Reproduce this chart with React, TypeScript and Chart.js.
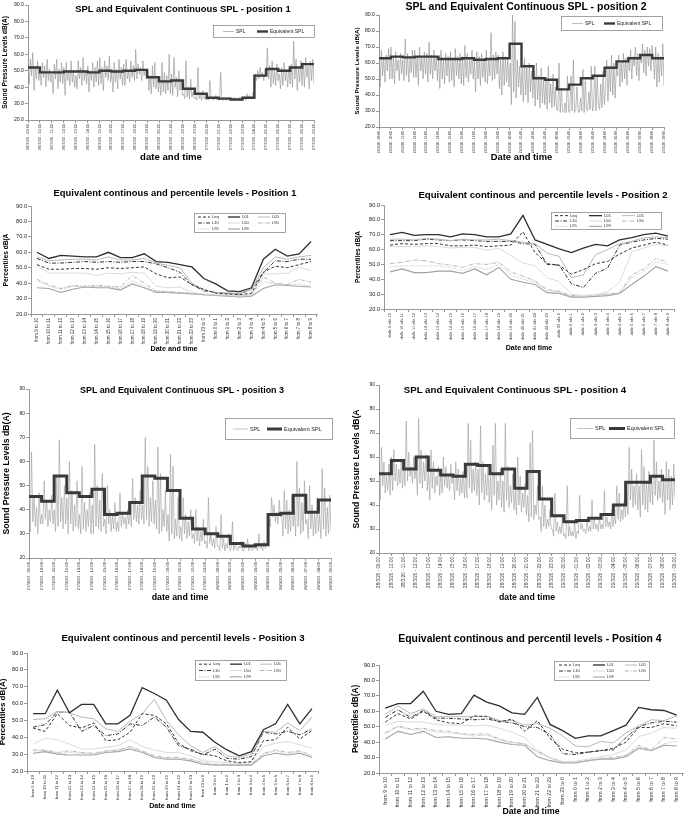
import React, { useEffect, useRef } from 'react';
import { Chart, registerables } from 'chart.js';

Chart.register(...registerables);

const FONT = "'Liberation Sans', Arial, Helvetica, sans-serif";
Chart.defaults.font.family = FONT;

// ---------- tick labels ----------
const splTicks12 = [
  '26/3/20 - 09:00', '26/3/20 - 10:00', '26/3/20 - 11:00', '26/3/20 - 12:00', '26/3/20 - 13:00',
  '26/3/20 - 14:00', '26/3/20 - 15:00', '26/3/20 - 16:00', '26/3/20 - 17:00', '26/3/20 - 18:00',
  '26/3/20 - 19:00', '26/3/20 - 20:00', '26/3/20 - 21:00', '26/3/20 - 22:00', '26/3/20 - 23:00',
  '27/3/20 - 00:00', '27/3/20 - 01:00', '27/3/20 - 02:00', '27/3/20 - 03:00', '27/3/20 - 04:00',
  '27/3/20 - 05:00', '27/3/20 - 06:00', '27/3/20 - 07:00', '27/3/20 - 08:00', '27/3/20 - 09:00',
];
const splTicks3 = [
  '27/3/20 - 09:00', '27/3/20 - 10:00', '27/3/20 - 11:00', '27/3/20 - 12:00', '27/3/20 - 13:00',
  '27/3/20 - 14:00', '27/3/20 - 15:00', '27/3/20 - 16:00', '27/3/20 - 17:00', '27/3/20 - 18:00',
  '27/3/20 - 19:00', '27/3/20 - 20:00', '27/3/20 - 21:00', '27/3/20 - 22:00', '27/3/20 - 23:00',
  '28/3/20 - 00:00', '28/3/20 - 01:00', '28/3/20 - 02:00', '28/3/20 - 03:00', '28/3/20 - 04:00',
  '28/3/20 - 05:00', '28/3/20 - 06:00', '28/3/20 - 07:00', '28/3/20 - 08:00', '28/3/20 - 09:00',
];
const splTicks4 = [
  '28/3/20 - 09:00', '28/3/20 - 10:00', '28/3/20 - 11:00', '28/3/20 - 12:00', '28/3/20 - 13:00',
  '28/3/20 - 14:00', '28/3/20 - 15:00', '28/3/20 - 16:00', '28/3/20 - 17:00', '28/3/20 - 18:00',
  '28/3/20 - 19:00', '28/3/20 - 20:00', '28/3/20 - 21:00', '28/3/20 - 22:00', '28/3/20 - 23:00',
  '29/3/20 - 00:00', '29/3/20 - 01:00', '29/3/20 - 02:00', '29/3/20 - 03:00', '29/3/20 - 04:00',
  '29/3/20 - 05:00', '29/3/20 - 06:00', '29/3/20 - 07:00', '29/3/20 - 08:00', '29/3/20 - 09:00',
];
const fromLabels = [
  'from 9 to 10', 'from 10 to 11', 'from 11 to 12', 'from 12 to 13', 'from 13 to 14', 'from 14 to 15',
  'from 15 to 16', 'from 16 to 17', 'from 17 to 18', 'from 18 to 19', 'from 19 to 20', 'from 20 to 21',
  'from 21 to 22', 'from 22 to 23', 'from 23 to 0', 'from 0 to 1', 'from 1 to 2', 'from 2 to 3',
  'from 3 to 4', 'from 4 to 5', 'from 5 to 6', 'from 6 to 7', 'from 7 to 8', 'from 8 to 9',
];
const dalleLabels = [
  'dalle 9 alle 10', 'dalle 10 alle 11', 'dalle 11 alle 12', 'dalle 12 alle 13', 'dalle 13 alle 14', 'dalle 14 alle 15',
  'dalle 15 alle 16', 'dalle 16 alle 17', 'dalle 17 alle 18', 'dalle 18 alle 19', 'dalle 19 alle 20', 'dalle 20 alle 21',
  'dalle 21 alle 22', 'dalle 22 alle 23', 'dalle 23 alle 0', 'dalle 0 alle 1', 'dalle 1 alle 2', 'dalle 2 alle 3',
  'dalle 3 alle 4', 'dalle 4 alle 5', 'dalle 5 alle 6', 'dalle 6 alle 7', 'dalle 7 alle 8', 'dalle 8 alle 9',
];

// ---------- SPL time series (10 readings per hour) & hourly equivalent SPL ----------
const spl1 = [
  54, 42, 57, 47, 61, 38, 52, 45, 56, 44,  50, 41, 55, 46, 53, 40, 57, 44, 51, 43,
  48, 36, 54, 45, 57, 39, 51, 43, 55, 42,  52, 35, 55, 44, 50, 41, 56, 43, 49, 40,
  47, 39, 56, 45, 52, 41, 58, 44, 50, 42,  53, 37, 50, 44, 55, 40, 52, 43, 56, 41,
  58, 42, 52, 38, 56, 46, 53, 44, 59, 43,  49, 37, 55, 43, 51, 39, 57, 45, 52, 41,
  54, 41, 57, 45, 50, 43, 56, 46, 53, 44,  63, 45, 54, 48, 52, 44, 56, 47, 51, 45,
  50, 38, 47, 36, 53, 40, 55, 39, 46, 37,  45, 35, 55, 37, 49, 36, 47, 38, 60, 36,
  48, 35, 58, 40, 46, 34, 50, 38, 44, 35,  36, 33, 56, 34, 40, 33, 45, 34, 37, 33,
  34, 32, 52, 33, 35, 32, 38, 33, 34, 32,  33, 32, 44, 33, 34, 32, 33, 35, 32, 33,
  32, 49, 33, 32, 34, 33, 32, 33, 34, 32,  33, 32, 34, 32, 33, 32, 33, 34, 32, 33,
  33, 34, 32, 36, 33, 35, 34, 33, 37, 34,  48, 44, 50, 45, 52, 46, 49, 44, 51, 47,
  64, 45, 53, 40, 56, 42, 50, 41, 54, 44,  48, 39, 52, 41, 55, 44, 50, 40, 53, 42,
  54, 40, 68, 45, 57, 38, 52, 43, 56, 41,  55, 40, 58, 46, 53, 39, 56, 44, 57, 42,
];
const leq1 = [52, 49, 49, 49.5, 49.5, 49, 50, 49.5, 50, 50.5, 46, 43.5, 44, 39, 36, 33.5, 33, 32.5, 33.5, 47, 51, 50, 52, 54];

const spl2 = [
  66, 45, 68, 52, 63, 48, 65, 55, 69, 50,  70, 50, 64, 47, 67, 55, 62, 49, 66, 53,
  62, 49, 75, 52, 66, 48, 64, 54, 68, 51,  68, 51, 64, 46, 70, 55, 63, 50, 67, 53,
  66, 48, 73, 53, 65, 50, 68, 55, 64, 49,  63, 44, 68, 50, 62, 47, 66, 52, 64, 48,
  67, 49, 63, 45, 69, 52, 64, 50, 66, 47,  64, 46, 71, 51, 66, 48, 63, 53, 68, 50,
  62, 42, 67, 50, 64, 46, 66, 51, 63, 48,  68, 47, 63, 52, 79, 49, 65, 50, 67, 53,
  65, 44, 62, 40, 67, 46, 64, 48, 63, 45,  60, 34, 90, 42, 86, 38, 62, 45, 58, 40,
  58, 36, 63, 40, 57, 35, 60, 42, 55, 38,  55, 33, 60, 37, 52, 32, 57, 35, 50, 34,
  50, 31, 58, 35, 47, 32, 53, 33, 45, 31,  30, 60, 29, 44, 30, 29, 35, 29, 52, 30,
  29, 52, 30, 62, 29, 31, 45, 30, 29, 38,  30, 56, 29, 49, 31, 30, 42, 31, 58, 30,
  33, 58, 30, 52, 35, 31, 47, 32, 55, 34,  45, 62, 36, 58, 42, 65, 40, 60, 38, 56,
  52, 65, 45, 61, 48, 66, 50, 63, 46, 64,  55, 68, 50, 64, 58, 70, 52, 66, 49, 65,
  60, 72, 54, 68, 52, 70, 58, 69, 55, 71,  62, 50, 70, 45, 66, 48, 64, 52, 72, 46,
];
const leq2 = [63, 64, 63.5, 64, 64, 62.5, 62.5, 63, 62, 62.5, 63, 72, 58, 50.5, 49.5, 43.5, 46.5, 50.5, 52, 57, 61, 63, 65, 63];

const spl3 = [
  50, 31, 64, 35, 45, 33, 41, 30, 47, 34,  38, 34, 52, 36, 44, 33, 40, 35, 46, 34,
  40, 31, 54, 33, 69, 35, 45, 32, 50, 34,  45, 30, 60, 34, 48, 31, 42, 33, 52, 32,
  38, 30, 58, 32, 43, 31, 40, 33, 47, 30,  42, 30, 67, 33, 50, 32, 44, 31, 55, 33,
  36, 30, 50, 34, 40, 31, 38, 32, 43, 31,  35, 31, 47, 33, 38, 34, 37, 32, 40, 34,
  40, 33, 53, 36, 45, 35, 42, 34, 48, 36,  42, 34, 70, 36, 58, 33, 45, 35, 52, 34,
  44, 32, 66, 30, 55, 31, 40, 33, 48, 31,  38, 27, 63, 30, 58, 28, 36, 29, 45, 28,
  33, 27, 45, 30, 38, 28, 35, 29, 40, 28,  30, 26, 40, 27, 33, 25, 31, 27, 36, 26,
  27, 24, 45, 26, 30, 25, 28, 24, 33, 25,  25, 23, 38, 24, 28, 23, 26, 24, 30, 23,
  24, 35, 23, 26, 24, 23, 25, 24, 27, 23,  23, 26, 24, 28, 23, 25, 24, 23, 26, 24,
  24, 23, 30, 24, 25, 23, 27, 24, 26, 25,  36, 33, 45, 37, 42, 35, 39, 34, 44, 37,
  38, 29, 48, 32, 44, 30, 40, 31, 46, 33,  40, 29, 60, 33, 49, 30, 43, 31, 52, 34,
  36, 28, 50, 32, 42, 29, 38, 30, 45, 31,  38, 28, 57, 32, 49, 29, 41, 30, 46, 31,
];
const leq3 = [45.5, 43.5, 54, 47, 45.5, 48.5, 38, 38.5, 43, 54, 53, 48, 36.5, 32, 30, 29, 26, 25, 25.5, 38, 38.5, 46, 39, 44];

const spl4 = [
  55, 42, 64, 48, 58, 45, 52, 46, 57, 44,  60, 46, 63, 50, 57, 48, 55, 49, 59, 47,
  58, 48, 75, 50, 62, 52, 56, 49, 60, 51,  56, 44, 76, 49, 63, 47, 58, 50, 61, 46,
  54, 42, 63, 47, 58, 45, 52, 48, 56, 44,  55, 45, 60, 48, 56, 47, 53, 46, 57, 49,
  52, 42, 58, 46, 55, 44, 51, 45, 54, 43,  54, 43, 74, 47, 67, 45, 55, 46, 58, 44,
  55, 40, 73, 45, 58, 42, 53, 44, 56, 41,  52, 38, 65, 44, 74, 40, 50, 42, 55, 39,
  50, 37, 74, 42, 56, 39, 48, 41, 53, 38,  46, 36, 60, 40, 52, 37, 45, 39, 49, 36,
  44, 33, 66, 35, 71, 34, 40, 36, 48, 34,  35, 29, 48, 31, 40, 30, 34, 31, 38, 30,
  30, 27, 45, 29, 33, 28, 31, 28, 35, 27,  28, 26, 48, 27, 31, 27, 29, 27, 33, 26,
  29, 28, 44, 30, 32, 29, 30, 28, 34, 29,  31, 29, 42, 30, 34, 30, 32, 29, 35, 30,
  32, 30, 46, 31, 35, 31, 33, 30, 38, 31,  36, 32, 48, 34, 45, 33, 38, 34, 42, 35,
  50, 36, 64, 42, 55, 39, 48, 40, 53, 38,  48, 35, 63, 40, 56, 38, 50, 37, 54, 41,
  52, 40, 67, 44, 58, 42, 50, 43, 55, 41,  50, 36, 58, 42, 55, 38, 52, 40, 57, 43,
];
const leq4 = [53, 58.5, 55, 60, 54.5, 52.5, 52, 57, 56.5, 53, 55, 47, 54, 42.5, 35.5, 33, 33.5, 34.5, 36, 40, 49.5, 49.5, 52, 50.5];

// ---------- percentile levels (hourly) ----------
const p1Leq = [52, 49, 49, 49.5, 49.5, 49, 50, 49.5, 50, 50.5, 46, 43.5, 44, 39, 36, 33.5, 33, 32.5, 33.5, 47, 51, 50, 52, 54];
const p1L01 = [60, 56, 58, 57.5, 57, 57, 60, 56.5, 56.5, 59, 54, 53.5, 52, 50.5, 43, 39.5, 35, 34.5, 37, 55.5, 62, 57.5, 59, 67];
const p1L05 = [57, 54.5, 55, 55.5, 55.5, 55, 57, 55, 55, 56, 53, 51.5, 50, 40, 35.5, 34, 33.5, 33.5, 36, 50, 57, 55.5, 57, 58];
const p1L10 = [56, 53, 53, 53.5, 54, 53.5, 54, 53.5, 54, 54, 52.5, 50, 47, 39, 35, 34, 33.5, 33, 36, 47, 54.5, 54, 55.5, 55.5];
const p1L50 = [51, 46.5, 46.5, 46.5, 46.5, 45, 46.5, 46, 47, 46.5, 38, 37, 37.5, 34, 33, 32.5, 32.5, 32, 33, 46, 46, 46.5, 50.5, 48];
const p1L90 = [42.5, 39, 36.5, 38.5, 38, 38.5, 38, 37.5, 45, 40, 35, 34.5, 34, 33.5, 32.5, 32, 32, 31.5, 32.5, 44, 40, 39, 42.5, 40.5];
const p1L95 = [41.5, 38, 36, 38, 37.5, 38, 37.5, 36.5, 41.5, 38, 34.5, 34, 33.5, 33, 32.5, 32, 31.5, 31.5, 32, 41, 39.5, 39, 39.5, 38];
const p1L99 = [37, 36.5, 34, 36, 37.5, 37, 37, 35.5, 39.5, 37, 34, 34, 33.5, 33, 32.5, 32, 31.5, 31, 31.5, 36.5, 39, 38.5, 38, 37.5];

const p2Leq = [63, 64, 63.5, 64, 64, 62.5, 62.5, 63, 62, 62.5, 63, 72, 58, 50.5, 49.5, 43.5, 46.5, 50.5, 52, 57, 61, 63, 65, 63];
const p2L01 = [70, 71.5, 69.5, 70, 70, 68.5, 70.5, 70, 68.5, 68.5, 70.5, 83, 66.5, 63.5, 60.5, 58, 61, 63.5, 62.5, 66.5, 68, 70, 71, 69];
const p2L05 = [67, 67, 66.5, 67.5, 67, 66, 67, 66.5, 66.5, 67, 66, 65, 64, 57.5, 55.5, 41, 43, 56.5, 60, 64, 65.5, 68, 68.5, 68];
const p2L10 = [66, 66, 66, 67, 66.5, 66, 66.5, 66, 65.5, 65.5, 65.5, 64, 63.5, 50, 49.5, 37, 34.5, 44, 47.5, 63, 65, 66.5, 67.5, 67];
const p2L50 = [62, 62, 62, 62.5, 62, 61, 61.5, 61.5, 59.5, 61, 56, 51, 49, 41, 38.5, 30, 29, 29.5, 31.5, 38, 58.5, 61, 63.5, 62.5];
const p2L90 = [50.5, 51.5, 53, 52.5, 50.5, 49.5, 48, 50.5, 50, 51.5, 45, 42, 39, 33, 32, 29, 29, 29.5, 30, 31, 43, 47, 54, 51.5];
const p2L95 = [48.5, 49, 49, 49, 49, 48, 46, 48.5, 46.5, 50, 43, 40, 38, 32.5, 31.5, 28.5, 28.5, 29, 29.5, 30.5, 41, 45.5, 51.5, 50];
const p2L99 = [45, 47, 44.5, 44.5, 45.5, 45.5, 44, 47, 43, 48, 40, 38, 36.5, 31, 30.5, 28, 28, 28.5, 29, 30.5, 36.5, 42, 48.5, 45.5];

const p3Leq = [45.5, 43.5, 54, 47, 45.5, 48.5, 38, 38.5, 43, 54, 53, 48, 36.5, 32, 30, 29, 26, 25, 25.5, 38, 38.5, 46, 39, 44];
const p3L01 = [54, 54, 68, 54.5, 59.5, 59.5, 48, 48, 53, 69.5, 66, 62, 50.5, 43.5, 43, 37, 32.5, 29, 31.5, 44.5, 48, 59.5, 48, 57];
const p3L05 = [50.5, 51, 55.5, 54.5, 52, 51, 45, 43.5, 49.5, 54, 62.5, 50, 41.5, 35, 31, 34.5, 29, 28, 30, 43.5, 43, 48.5, 44, 52];
const p3L10 = [46, 47.5, 55, 55, 43.5, 47, 41, 42, 48, 47, 52, 46, 35, 33, 29.5, 33, 27.5, 27, 28.5, 43, 42, 43.5, 41.5, 45];
const p3L50 = [36, 39.5, 38.5, 36, 33, 33, 34, 35, 38.5, 34.5, 32.5, 31, 31, 29, 26, 25.5, 25, 24.5, 25, 34.5, 36.5, 37.5, 35.5, 33.5];
const p3L90 = [32.5, 32.5, 31, 32, 31, 30.5, 32, 32.5, 34.5, 32, 29, 28, 28, 27, 25, 24, 24, 24, 24, 30.5, 32.5, 31, 32, 29];
const p3L95 = [32, 32, 30.5, 31, 30.5, 30, 31.5, 32.5, 34, 31.5, 28.5, 27.5, 27.5, 26.5, 24.5, 23.5, 23.5, 23.5, 24, 30, 32, 30, 31.5, 28.5];
const p3L99 = [30.5, 31.5, 30, 29.5, 29.5, 29.5, 31, 31.5, 33, 31, 28, 27, 27, 26, 24, 23.5, 23.5, 23.5, 23.5, 29, 30.5, 29.5, 30.5, 28];

const p4Leq = [53, 58.5, 55, 60, 54.5, 52.5, 52, 57, 56.5, 53, 55, 47, 54, 42.5, 35.5, 33, 33.5, 34.5, 36, 40, 49.5, 49.5, 52, 50.5];
const p4L01 = [62, 65, 65, 73, 60, 58, 58.5, 70.5, 66, 63.5, 59, 58, 69, 51.5, 47.5, 42.5, 44, 44, 47.5, 51, 62.5, 61, 60.5, 57.5];
const p4L05 = [58, 63.5, 58.5, 61.5, 56.5, 56.5, 56.5, 56.5, 57, 54, 54, 51, 52, 49, 44, 37.5, 37, 40.5, 39.5, 46, 50.5, 54.5, 54, 57];
const p4L10 = [56, 61, 56, 60.5, 55.5, 55.5, 55, 54.5, 55, 53.5, 52.5, 50, 49.5, 45, 32.5, 32, 33.5, 34.5, 35, 43, 50, 52.5, 53.5, 53];
const p4L50 = [51, 53.5, 53, 53, 51.5, 51, 51, 50.5, 51, 49, 46.5, 43, 35, 30, 27.5, 27.5, 29, 30.5, 32, 35, 43.5, 46, 49.5, 49];
const p4L90 = [46, 50.5, 48.5, 49, 47.5, 47, 45.5, 45, 45.5, 42, 40, 39, 34, 30, 27, 27, 28, 29.5, 30, 31.5, 38, 35, 43, 42];
const p4L95 = [45.5, 50, 48, 48, 46.5, 46, 45, 44, 44.5, 41.5, 39.5, 39, 33.5, 29.5, 27, 27, 28, 29, 29.5, 31, 37, 34.5, 39, 40.5];
const p4L99 = [42, 47, 45, 47, 43, 43.5, 42.5, 42.5, 42, 40, 38.5, 38, 30.5, 28, 26.5, 26.5, 28, 29, 29, 30.5, 36, 34.5, 38, 37.5];

// ---------- styles ----------
const pctStyles: any = {
  Leq: { color: '#333333', width: 1, dash: [3, 2] },
  L01: { color: '#2e2e2e', width: 1.3, dash: [] },
  L05: { color: '#b8b8b8', width: 1, dash: [] },
  L10: { color: '#333333', width: 1, dash: [4, 1.5, 1, 1.5] },
  L50: { color: '#dadada', width: 1, dash: [] },
  L90: { color: '#b4b4b4', width: 1, dash: [4, 1.5, 1, 1.5] },
  L95: { color: '#c4c4c4', width: 1, dash: [1.2, 1.2] },
  L99: { color: '#a2a2a2', width: 1.1, dash: [] },
};

// ---------- legend box plugin ----------
const boxLegend = {
  id: 'boxLegend',
  afterDraw(chart: any, _args: any, o: any) {
    if (!o || !o.box) return;
    const ctx = chart.ctx;
    const [x, y, w, h] = o.box;
    ctx.save();
    ctx.setLineDash([]);
    ctx.fillStyle = '#ffffff';
    ctx.fillRect(x, y, w, h);
    ctx.strokeStyle = '#8c8c8c';
    ctx.lineWidth = 0.8;
    ctx.strokeRect(x + 0.5, y + 0.5, w - 1, h - 1);
    ctx.font = `${o.fontSize}px ${FONT}`;
    ctx.textBaseline = 'middle';
    ctx.textAlign = 'left';
    const ds = chart.data.datasets;
    const cols = o.colX.length;
    const rows = Math.ceil(ds.length / cols);
    const rowH = (h - 2) / rows;
    ds.forEach((d: any, i: number) => {
      const c = i % cols;
      const r = Math.floor(i / cols);
      const sx = x + o.colX[c];
      const sy = y + 1 + rowH * (r + 0.5);
      ctx.strokeStyle = d.borderColor;
      ctx.lineWidth = d.borderWidth;
      ctx.setLineDash(d.borderDash || []);
      ctx.beginPath();
      ctx.moveTo(sx, sy);
      ctx.lineTo(sx + o.sample, sy);
      ctx.stroke();
      ctx.setLineDash([]);
      ctx.fillStyle = '#222222';
      ctx.fillText(d.label, sx + o.sample + o.gap, sy);
    });
    ctx.restore();
  },
};

const AXIS_COLOR = '#7f7f7f';

function axisBase() {
  return {
    grid: { display: true, drawOnChartArea: false, drawTicks: true, tickLength: 3, color: AXIS_COLOR, lineWidth: 0.8 },
    border: { display: true, color: AXIS_COLOR, width: 0.8 },
  };
}

function yAxis(p: any) {
  return {
    ...axisBase(),
    min: 20,
    max: 90,
    afterFit: (s: any) => { s.width = p.yw; },
    ticks: {
      stepSize: 10,
      padding: 1,
      color: '#222',
      font: { size: p.yTickSize },
      callback: (v: any) => (p.yDecimals ? Number(v).toFixed(1) : String(v)),
    },
    title: {
      display: true,
      text: p.yTitle,
      color: '#000',
      font: { size: p.yTitleSize, weight: 'bold', lineHeight: 1 },
      padding: { top: p.yTitlePad, bottom: 0 },
    },
  };
}

function xTitle(p: any) {
  return {
    display: true,
    text: p.xTitle,
    color: '#000',
    font: { size: p.xTitleSize, weight: 'bold', lineHeight: 1 },
    padding: { top: 0, bottom: p.xTitlePad },
  };
}

function splConfig(p: any) {
  const n = p.spl.length;
  return {
    type: 'line',
    data: {
      datasets: [
        {
          label: 'SPL',
          data: p.spl.map((v: number, i: number) => ({ x: (i * 24) / (n - 1), y: v })),
          borderColor: p.splColor,
          borderWidth: 0.6,
          pointRadius: 0,
          tension: 0,
          order: 1,
        },
        {
          label: 'Equivalent SPL',
          data: [...p.leq.map((v: number, i: number) => ({ x: i, y: v })), { x: p.leq.length, y: p.leq[p.leq.length - 1] }],
          borderColor: '#3a3a3a',
          borderWidth: p.leqWidth,
          pointRadius: 0,
          stepped: 'before',
          order: 0,
        },
      ],
    },
    options: {
      responsive: false,
      animation: false,
      events: [],
      layout: { padding: { left: 0, top: p.padT, right: p.padR, bottom: 0 } },
      plugins: { legend: { display: false }, tooltip: { enabled: false }, title: { display: false }, boxLegend: p.legend },
      scales: {
        x: {
          ...axisBase(),
          type: 'linear',
          min: 0,
          max: 24,
          afterBuildTicks: (s: any) => { s.ticks = p.ticks.map((_: string, i: number) => ({ value: i })); },
          afterFit: (s: any) => { s.height = p.xh; },
          ticks: {
            autoSkip: false,
            minRotation: 90,
            maxRotation: 90,
            padding: 1,
            color: '#333',
            font: { size: p.xTickSize },
            callback: (v: any) => p.ticks[Math.round(Number(v))],
          },
          title: xTitle(p),
        },
        y: yAxis(p),
      },
    },
    plugins: [boxLegend],
  };
}

function pctConfig(p: any) {
  return {
    type: 'line',
    data: {
      labels: p.labels,
      datasets: p.series.map((s: any) => ({
        label: s.label,
        data: s.data,
        borderColor: pctStyles[s.label].color,
        borderWidth: pctStyles[s.label].width,
        borderDash: pctStyles[s.label].dash,
        pointRadius: 0,
        tension: 0,
      })),
    },
    options: {
      responsive: false,
      animation: false,
      events: [],
      layout: { padding: { left: 0, top: p.padT, right: p.padR, bottom: 0 } },
      plugins: { legend: { display: false }, tooltip: { enabled: false }, title: { display: false }, boxLegend: p.legend },
      scales: {
        x: {
          ...axisBase(),
          type: 'category',
          offset: true,
          grid: { display: true, drawOnChartArea: false, drawTicks: true, tickLength: 3, color: AXIS_COLOR, lineWidth: 0.8, offset: true },
          afterFit: (s: any) => { s.height = p.xh; },
          ticks: { autoSkip: false, minRotation: 90, maxRotation: 90, padding: 1, color: '#333', font: { size: p.xTickSize } },
          title: xTitle(p),
        },
        y: yAxis(p),
      },
    },
    plugins: [boxLegend],
  };
}

function pctSeries(leq: number[], l01: number[], l05: number[], l10: number[], l50: number[], l90: number[], l95: number[], l99: number[]) {
  return [
    { label: 'Leq', data: leq }, { label: 'L01', data: l01 }, { label: 'L05', data: l05 },
    { label: 'L10', data: l10 }, { label: 'L50', data: l50 }, { label: 'L90', data: l90 },
    { label: 'L95', data: l95 }, { label: 'L99', data: l99 },
  ];
}

const panels: any[] = [
  {
    box: [0, 0, 342, 180],
    title: { text: 'SPL and Equivalent Continuous SPL -  position 1', cx: 183, cy: 9, size: 9.4 },
    config: () => splConfig({
      spl: spl1, leq: leq1, ticks: splTicks12, splColor: '#8e8e8e', leqWidth: 2.4,
      padT: 5, yw: 28, padR: 28, xh: 60,
      xTitle: 'date and time', xTitleSize: 9.6, xTitlePad: 18,
      yTitle: 'Sound Pressure Levels dB(A)', yTitleSize: 6.6, yTitlePad: 1.7,
      xTickSize: 3.9, yTickSize: 5.2, yDecimals: true,
      legend: { box: [213, 25, 102, 13], colX: [10, 44], sample: 11, gap: 2, fontSize: 5 },
    }),
  },
  {
    box: [342, 0, 343, 180],
    title: { text: 'SPL and Equivalent Continuous SPL -  position 2', cx: 526, cy: 6, size: 10.5 },
    config: () => splConfig({
      spl: spl2, leq: leq2, ticks: splTicks12, splColor: '#8e8e8e', leqWidth: 2.4,
      padT: 15, yw: 37, padR: 21, xh: 53,
      xTitle: 'Date and time', xTitleSize: 9.4, xTitlePad: 18,
      yTitle: 'Sound Pressure Levels dB(A)', yTitleSize: 6.2, yTitlePad: 11.9,
      xTickSize: 3.3, yTickSize: 5.2, yDecimals: true,
      legend: { box: [219, 16, 102, 15], colX: [11, 43], sample: 11, gap: 2, fontSize: 5 },
    }),
  },
  {
    box: [0, 180, 342, 195],
    title: { text: 'Equivalent continous and percentile levels - Position 1', cx: 175, cy: 193, size: 9.4 },
    config: () => pctConfig({
      labels: fromLabels,
      series: pctSeries(p1Leq, p1L01, p1L05, p1L10, p1L50, p1L90, p1L95, p1L99),
      padT: 26, yw: 31, padR: 25, xh: 61,
      xTitle: 'Date and time', xTitleSize: 7.2, xTitlePad: 22.4,
      yTitle: 'Percentiles dB(A', yTitleSize: 6.6, yTitlePad: 2.7,
      xTickSize: 4.5, yTickSize: 5.6, yDecimals: true,
      legend: { box: [194, 33, 92, 20], colX: [4, 34, 64], sample: 12, gap: 2, fontSize: 4 },
    }),
  },
  {
    box: [342, 180, 343, 195],
    title: { text: 'Equivalent continous and percentile levels - Position 2', cx: 543, cy: 195, size: 9.65 },
    config: () => pctConfig({
      labels: dalleLabels,
      series: pctSeries(p2Leq, p2L01, p2L05, p2L10, p2L50, p2L90, p2L95, p2L99),
      padT: 25, yw: 42, padR: 11, xh: 66,
      xTitle: 'Date and time', xTitleSize: 7.1, xTitlePad: 23.4,
      yTitle: 'Percentiles dB(A', yTitleSize: 6.5, yTitlePad: 12.7,
      xTickSize: 4, yTickSize: 5.6, yDecimals: true,
      legend: { box: [209, 32, 111, 18], colX: [4, 38, 71], sample: 13, gap: 2, fontSize: 4 },
    }),
  },
  {
    box: [0, 375, 342, 235],
    title: { text: 'SPL and Equivalent Continuous SPL -  position 3', cx: 182, cy: 390, size: 8.9 },
    config: () => splConfig({
      spl: spl3, leq: leq3, ticks: splTicks3, splColor: '#9a9a9a', leqWidth: 3,
      padT: 14, yw: 29, padR: 11, xh: 52,
      xTitle: 'date and time', xTitleSize: 8.8, xTitlePad: 7.6,
      yTitle: 'Sound Pressure Levels dB(A)', yTitleSize: 8.7, yTitlePad: 2.6,
      xTickSize: 4.2, yTickSize: 5, yDecimals: false,
      legend: { box: [225, 43, 108, 22], colX: [8, 42], sample: 15, gap: 2, fontSize: 5.5 },
    }),
  },
  {
    box: [342, 375, 343, 235],
    title: { text: 'SPL and Equivalent Continuous SPL -  position 4', cx: 515, cy: 390, size: 9.7 },
    config: () => splConfig({
      spl: spl4, leq: leq4, ticks: splTicks4, splColor: '#9a9a9a', leqWidth: 3,
      padT: 10, yw: 37, padR: 10, xh: 57,
      xTitle: 'date and time', xTitleSize: 8.7, xTitlePad: 7.6,
      yTitle: 'Sound Pressure Levels dB(A', yTitleSize: 8.7, yTitlePad: 10.6,
      xTickSize: 4.6, yTickSize: 5, yDecimals: false,
      legend: { box: [228, 43, 105, 21], colX: [7, 39], sample: 16, gap: 2, fontSize: 5.5 },
    }),
  },
  {
    box: [0, 610, 342, 206],
    title: { text: 'Equivalent continous and percentil levels - Position 3', cx: 183, cy: 638, size: 9.6 },
    config: () => pctConfig({
      labels: fromLabels,
      series: pctSeries(p3Leq, p3L01, p3L05, p3L10, p3L50, p3L90, p3L95, p3L99),
      padT: 43, yw: 27, padR: 24, xh: 45,
      xTitle: 'Date and time', xTitleSize: 7.1, xTitlePad: 6.4,
      yTitle: 'Percentiles dB(A)', yTitleSize: 8, yTitlePad: -1,
      xTickSize: 4.2, yTickSize: 5.6, yDecimals: true,
      legend: { box: [195, 50, 92, 21], colX: [4, 35, 65], sample: 12, gap: 2, fontSize: 4 },
    }),
  },
  {
    box: [342, 610, 343, 206],
    title: { text: 'Equivalent continous and percentil levels - Position 4', cx: 530, cy: 639, size: 10.4 },
    config: () => pctConfig({
      labels: fromLabels,
      series: pctSeries(p4Leq, p4L01, p4L05, p4L10, p4L50, p4L90, p4L95, p4L99),
      padT: 55, yw: 37, padR: 2, xh: 43,
      xTitle: 'Date and time', xTitleSize: 8.7, xTitlePad: -0.4,
      yTitle: 'Percentiles dB(A)', yTitleSize: 8.2, yTitlePad: 9.9,
      xTickSize: 5.2, yTickSize: 5.8, yDecimals: true,
      legend: { box: [212, 51, 96, 20], colX: [5, 39, 71], sample: 12, gap: 2, fontSize: 4 },
    }),
  },
];

function Panel({ spec }: { spec: any }) {
  const ref = useRef<HTMLCanvasElement | null>(null);
  const [l, t, w, h] = spec.box;
  useEffect(() => {
    if (!ref.current) return;
    const chart = new Chart(ref.current, spec.config());
    return () => chart.destroy();
  }, []);
  return (
    <div style={{ position: 'absolute', left: l, top: t, width: w, height: h }}>
      <canvas ref={ref} width={w} height={h} style={{ display: 'block', width: w, height: h }} />
    </div>
  );
}

function Title({ t }: { t: any }) {
  return (
    <div
      style={{
        position: 'absolute',
        left: t.cx - 200,
        width: 400,
        top: t.cy - t.size * 0.6,
        height: t.size * 1.2,
        lineHeight: `${t.size * 1.2}px`,
        fontFamily: FONT,
        fontWeight: 'bold',
        fontSize: t.size,
        textAlign: 'center',
        whiteSpace: 'nowrap',
        color: '#000',
        pointerEvents: 'none',
      }}
    >
      {t.text}
    </div>
  );
}

export default function App() {
  return (
    <div style={{ position: 'absolute', left: 0, top: 0, width: 685, height: 816, background: '#fff', overflow: 'hidden' }}>
      {panels.map((p, i) => <Panel key={i} spec={p} />)}
      {panels.map((p, i) => <Title key={'t' + i} t={p.title} />)}
    </div>
  );
}
